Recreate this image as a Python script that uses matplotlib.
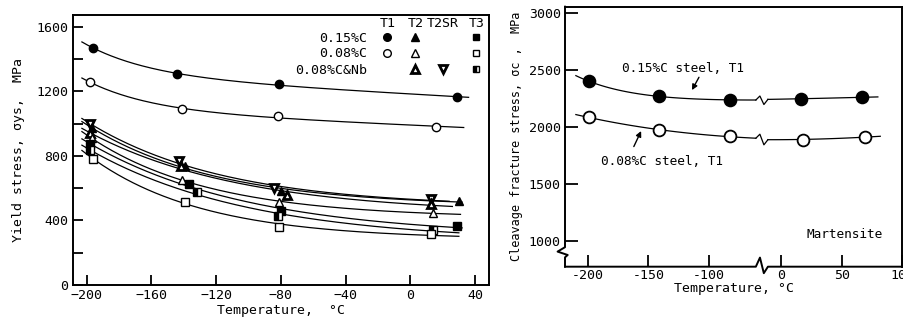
import numpy as np
import matplotlib
matplotlib.use("Agg")
import matplotlib.pyplot as plt

plt.rcParams['font.family'] = ['DejaVu Sans Mono', 'DejaVu Sans']
plt.rcParams['font.size'] = 9.5

# ---------------- left panel: yield stress vs temperature ----------------
t_015_t1 = [-196, -144, -81, 29]
ys_015_t1 = [1470, 1305, 1245, 1165]
t_008_t1 = [-198, -141, -82, 16]
ys_008_t1 = [1258, 1088, 1045, 981]

t_nb_t2sr = [-198, -143, -84, 13]
ys_nb_t2sr = [998, 766, 599, 532]
t_015_t2 = [-197, -139, -80, 30]
ys_015_t2 = [971, 738, 582, 520]
t_nb_t2 = [-198, -142, -76, 13]
ys_nb_t2 = [940, 735, 555, 505]
t_008_t2 = [-197, -141, -81, 14]
ys_008_t2 = [909, 653, 512, 448]
t_015_t3 = [-198, -137, -80, 29]
ys_015_t3 = [874, 623, 457, 363]
t_nb_t3 = [-198, -132, -82, 14]
ys_nb_t3 = [834, 576, 428, 338]
t_008_t3 = [-196, -139, -81, 13]
ys_008_t3 = [779, 516, 361, 315]

# ---------------- right panel: cleavage fracture stress ----------------
t_cl = [-199, -141, -82, 16, 67]
sc_015 = [2398, 2266, 2237, 2243, 2260]
t_cl_008 = [-199, -141, -82, 18, 69]
sc_008 = [2082, 1971, 1919, 1884, 1912]


def smooth_fit(t, y, t_new, allow_rise=False):
    """Least squares fit y = a + b*T + c*exp(-(T+200)/tau), tau by grid search.
    If the linear term comes out rising, drop it (curves should level off)."""
    t = np.asarray(t, float)
    y = np.asarray(y, float)
    t_new = np.asarray(t_new, float)
    best = None
    for use_lin in (True, False):
        for tau in np.arange(40, 300, 5):
            cols = [np.ones_like(t), np.exp(-(t + 200) / tau)]
            if use_lin:
                cols.append(t)
            A = np.column_stack(cols)
            coef = np.linalg.lstsq(A, y, rcond=None)[0]
            if use_lin and coef[2] > 0 and not allow_rise:
                continue
            err = np.sum((A @ coef - y) ** 2)
            if best is None or err < best[0]:
                best = (err, tau, coef, use_lin)
    _, tau, coef, use_lin = best
    out = coef[0] + coef[1] * np.exp(-(t_new + 200) / tau)
    if use_lin:
        out = out + coef[2] * t_new
    return out


fig = plt.figure(figsize=(9.04, 3.21), dpi=100)

# ---- left axes
ax1 = fig.add_axes([0.0804, 0.1121, 0.4605, 0.841])
lw = 0.9
left_series = [
    (t_015_t1, ys_015_t1, dict(marker='o', mfc='black', ms=6), 36),
    (t_008_t1, ys_008_t1, dict(marker='o', mfc='white', ms=6), 33),
    (t_nb_t2sr, ys_nb_t2sr, dict(marker='v', mfc='white', ms=6, mew=2.0), 24),
    (t_015_t2, ys_015_t2, dict(marker='^', mfc='black', ms=6), 32),
    (t_nb_t2, ys_nb_t2, dict(marker='^', mfc='white', ms=6, mew=2.0), 26),
    (t_008_t2, ys_008_t2, dict(marker='^', mfc='white', ms=6), 31),
    (t_015_t3, ys_015_t3, dict(marker='s', mfc='black', ms=5.5), 32),
    (t_nb_t3, ys_nb_t3, dict(marker='s', fillstyle='left', mfc='black', mfcalt='white', ms=5.5), 30),
    (t_008_t3, ys_008_t3, dict(marker='s', mfc='white', ms=5.5), 30),
]
for t, y, mk, tend in left_series:
    tt = np.linspace(-203, tend, 200)
    ax1.plot(tt, smooth_fit(t, y, tt), color='black', lw=lw, zorder=2)
    ax1.plot(t, y, ls='none', color='black', mec='black', zorder=3, **mk)

ax1.set_xlim(-208.7, 48.6)
ax1.set_ylim(0, 1673)
ax1.set_xticks(np.arange(-200, 41, 40))
ax1.set_yticks(np.arange(0, 1601, 400))
ax1.set_yticks(np.arange(200, 1601, 400), minor=True)
ax1.tick_params(direction='in', length=7, width=1.3, pad=3)
ax1.tick_params(which='minor', direction='in', length=7, width=1.3)
for s in ax1.spines.values():
    s.set_linewidth(1.4)
ax1.set_xlabel('Temperature,  °C', labelpad=1)
ax1.set_ylabel('Yield stress, σys,  MPa', labelpad=8)

# legend table
col_x = [0.756, 0.823, 0.890, 0.970]
for x, h in zip(col_x, ['T1', 'T2', 'T2SR', 'T3']):
    ax1.text(x, 0.968, h, transform=ax1.transAxes, ha='center', va='center')
row_y = [0.912, 0.858, 0.796]
for y, lab in zip(row_y, ['0.15%C', '0.08%C', '0.08%C&Nb']):
    ax1.text(0.708, y, lab, transform=ax1.transAxes, ha='right', va='center')
legend_marks = [
    (0, 0, dict(marker='o', mfc='black', ms=5.5)),
    (1, 0, dict(marker='^', mfc='black', ms=6)),
    (3, 0, dict(marker='s', mfc='black', ms=5)),
    (0, 1, dict(marker='o', mfc='white', ms=5.5)),
    (1, 1, dict(marker='^', mfc='white', ms=6)),
    (3, 1, dict(marker='s', mfc='white', ms=5)),
    (1, 2, dict(marker='^', mfc='white', ms=6, mew=2.0)),
    (2, 2, dict(marker='v', mfc='white', ms=6, mew=2.0)),
    (3, 2, dict(marker='s', fillstyle='left', mfc='black', mfcalt='white', ms=5)),
]
mark_y = [0.920, 0.860, 0.802]
for c, r, mk in legend_marks:
    ax1.plot([col_x[c]], [mark_y[r]], transform=ax1.transAxes, ls='none',
             color='black', mec='black', clip_on=False, **mk)

# ---- right axes with broken temperature axis
brk_real = [-61, -11]
brk_pos = [-61, -51]


def fwd(x):
    return np.interp(x, [-400, brk_real[0], brk_real[1], 400], [-400, brk_pos[0], brk_pos[1], 360])


def inv(p):
    return np.interp(p, [-400, brk_pos[0], brk_pos[1], 360], [-400, brk_real[0], brk_real[1], 400])


ax2 = fig.add_axes([0.625, 0.1692, 0.3728, 0.81])
ax2.set_xscale('function', functions=(fwd, inv))
ax2.set_xlim(-219, 100)
ax2.set_ylim(775, 3052)

for t, s, mfc, tend in [(t_cl, sc_015, 'black', 80), (t_cl_008, sc_008, 'white', 82)]:
    ta = np.linspace(-210, brk_real[0], 120)
    tb = np.linspace(brk_real[1], tend, 80)
    ya = smooth_fit(t, s, ta, allow_rise=True)
    yb = smooth_fit(t, s, tb, allow_rise=True)
    ax2.plot(ta, ya, color='black', lw=lw)
    ax2.plot(tb, yb, color='black', lw=lw)
    zx = np.linspace(brk_real[0], brk_real[1], 4)
    zy = [ya[-1], ya[-1] + 35, yb[0] - 45, yb[0]]
    ax2.plot(zx, zy, color='black', lw=lw)
    ax2.plot(t, s, ls='none', marker='o', ms=8.5, mfc=mfc, mec='black', mew=1.3)

ax2.set_xticks([-200, -150, -100, 0, 50, 100])
ax2.set_xticklabels(['-200', '-150', '-100', '0', '50', '100'])
ax2.xaxis.set_minor_locator(plt.NullLocator())
ax2.set_yticks([1000, 1500, 2000, 2500, 3000])
ax2.tick_params(direction='in', length=9, width=1.3, pad=2)
ax2.tick_params(axis='y', pad=3)
for s in ax2.spines.values():
    s.set_linewidth(1.4)
ax2.spines['left'].set_visible(False)
ax2.spines['bottom'].set_visible(False)

# broken spines
ax2.plot([0, 0, -0.022, 0.008, 0, 0], [1, 0.075, 0.058, 0.045, 0.036, 0],
         transform=ax2.transAxes, color='black', lw=1.4, clip_on=False)
ax2.plot([-219, brk_real[0], -44, -28, brk_real[1], 100], [0, 0, 0.035, -0.025, 0, 0],
         transform=ax2.get_xaxis_transform(), color='black', lw=1.4, clip_on=False)

ax2.set_xlabel('Temperature, °C', labelpad=0)
ax2.set_ylabel('Cleavage fracture stress, σc ,  MPa', labelpad=4, fontsize=8.6)

ax2.text(-171.5, 2510, '0.15%C steel, T1', ha='left', va='center', fontsize=9.2)
ax2.annotate('', xy=(-115, 2300), xytext=(-107, 2455),
             arrowprops=dict(arrowstyle='-|>', color='black', lw=1.0, mutation_scale=8))
ax2.text(-189, 1700, '0.08%C steel, T1', ha='left', va='center', fontsize=9.2)
ax2.annotate('', xy=(-155, 1985), xytext=(-163, 1805),
             arrowprops=dict(arrowstyle='-|>', color='black', lw=1.0, mutation_scale=8))
ax2.text(84, 1058, 'Martensite', ha='right', va='center', fontsize=9.2)

fig.savefig('out.png', dpi=100)
